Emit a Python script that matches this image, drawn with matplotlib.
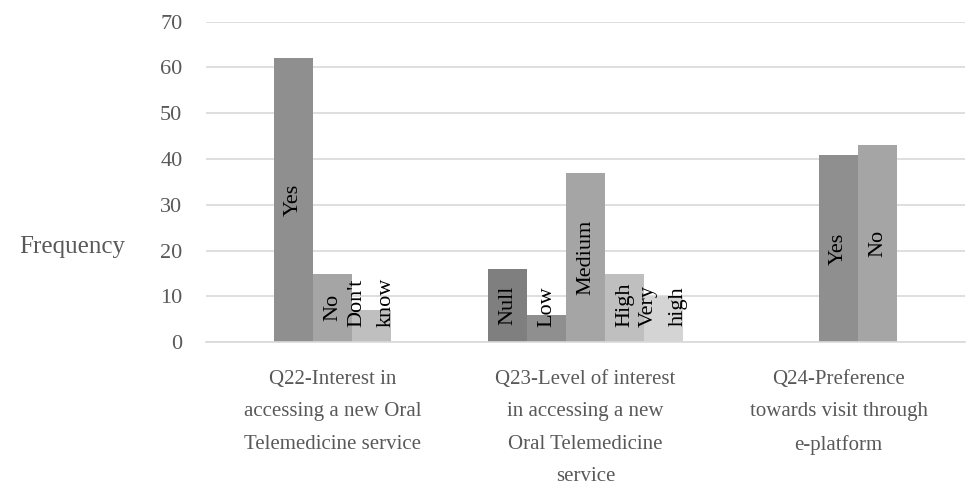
import matplotlib
matplotlib.use('Agg')
import matplotlib.pyplot as plt

# 数据
categories = ['Q22-Interest in\naccessing a new Oral\nTelemedicine service',
              'Q23-Level of interest\nin accessing a new\nOral Telemedicine\nservice',
              'Q24-Preference\ntowards visit through\ne-platform']

q22_labels = ['Yes', 'No', "Don't\nknow"]
q22_values = [62, 15, 7]
q23_labels = ['Null', 'Low', 'Medium', 'High', 'Very\nhigh']
q23_values = [16, 6, 37, 15, 10]
q24_labels = ['', 'Yes', 'No']
q24_values = [None, 41, 43]

groups = [(q22_labels, q22_values), (q23_labels, q23_values), (q24_labels, q24_values)]
# colours per group (grey shades, like Excel monochrome)
q22_colors = ['#8f8f8f', '#a5a5a5', '#bfbfbf']
q23_colors = ['#7f7f7f', '#8f8f8f', '#a5a5a5', '#bfbfbf', '#d4d4d4']
q24_colors = ['#7f7f7f', '#8f8f8f', '#a5a5a5']
colors = [q22_colors, q23_colors, q24_colors]

plt.rcParams['font.family'] = ['Liberation Serif', 'DejaVu Serif']

fig = plt.figure(figsize=(9.66, 4.92), dpi=100)
ax = fig.add_axes([0.2133, 0.3043, 0.7857, 0.6516])

width = 0.154
texts = []
for i, (labels, values) in enumerate(groups):
    n = len(values)
    for j, (lab, v) in enumerate(zip(labels, values)):
        if v is None:
            continue
        x = i + (j - (n - 1) / 2) * width
        ax.bar(x, v, width=width, color=colors[i][j], linewidth=0)
        t = ax.text(x, v / 2, lab, rotation=90, ha='center', va='center',
                    fontsize=16, color='black', linespacing=1.75)
        texts.append(t)

ax.set_ylim(0, 70)
ax.set_xlim(-0.5, 2.5)
ax.set_yticks(range(0, 71, 10))
ax.set_xticks(range(3))
ax.set_xticklabels(categories)
ax.yaxis.grid(True, color='#d9d9d9', linewidth=1.2)
ax.set_axisbelow(True)
for s in ['top', 'right', 'left']:
    ax.spines[s].set_visible(False)
ax.spines['bottom'].set_color('#d9d9d9')
ax.spines['bottom'].set_linewidth(1.2)
ax.tick_params(length=0, labelcolor='#595959')
ax.tick_params(axis='x', pad=20, labelsize=15)
ax.tick_params(axis='y', pad=17, labelsize=16)
for lab in ax.get_xticklabels():
    lab.set_verticalalignment('top')
    lab.set_linespacing(1.95)

fig.text(0.0745, 1 - 247 / 492, 'Frequency', fontsize=18, color='#595959',
         ha='center', va='center')

# labels that do not fit in short bars sit just above the baseline
fig.canvas.draw()
r = fig.canvas.get_renderer()
inv = ax.transData.inverted()
base_px = ax.transData.transform((0, 0))[1]
for t in texts:
    bb = t.get_window_extent(r)
    if bb.y0 < base_px + 15:
        t.set_y(inv.transform((0, base_px + 15))[1])
        t.set_va('bottom')

fig.savefig('out.png', dpi=100)
